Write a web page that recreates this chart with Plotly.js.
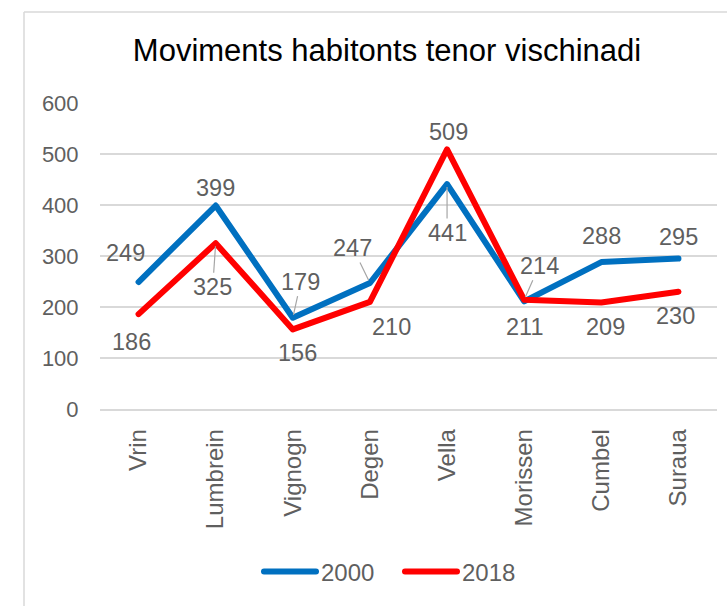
<!DOCTYPE html>
<html>
<head>
<meta charset="utf-8">
<script src="https://cdn.plot.ly/plotly-3.0.1.min.js"></script>
<style>
  html, body { margin: 0; padding: 0; background: #ffffff; }
  #chart { width: 727px; height: 606px; }
  #chart .scatterlayer .js-line, #chart .legendlines path { stroke-linecap: round; stroke-linejoin: round; }
</style>
</head>
<body>
<div id="chart"></div>
<script>
// ---- data ----
const categories = ['Vrin', 'Lumbrein', 'Vignogn', 'Degen', 'Vella', 'Morissen', 'Cumbel', 'Suraua'];
const values2000 = [249, 399, 179, 247, 441, 211, 288, 295];
const values2018 = [186, 325, 156, 210, 509, 214, 209, 230];
const seriesNames = ['2000', '2018'];
const yTicks = [0, 100, 200, 300, 400, 500, 600];

// ---- label placement (pixel offsets from the point, dy downward) ----
const labelOffsets2000 = [[-13, -29], [0, -18], [8, -36], [-17, -35], [0, 49], [0, 26], [0, -26], [0, -22]];
const leaders2000 = [false, false, true, true, true, false, false, false];
const labelOffsets2018 = [[-7, 28], [-3, 44], [5, 24], [22, 25], [1, -17], [15, -34], [4, 25], [-3, 24]];
const leaders2018 = [false, true, false, false, false, true, false, false];

const FONT = 'Liberation Sans, Arial, sans-serif';
const GRAY = '#5f5f5f';
const colors = ['#0070C0', '#FF0000'];

const traces = [values2000, values2018].map((vals, i) => ({
  type: 'scatter',
  mode: 'lines',
  name: seriesNames[i],
  x: categories,
  y: vals,
  line: { color: colors[i], width: 6 },
  hoverinfo: 'skip'
}));

function makeLabels(vals, offsets, leaders) {
  return vals.map((v, i) => {
    const [dx, dy] = offsets[i];
    const base = {
      x: categories[i], y: v, xref: 'x', yref: 'y',
      text: String(v),
      font: { family: FONT, size: 23.5, color: GRAY }
    };
    if (leaders[i]) {
      return Object.assign(base, {
        showarrow: true, ax: dx, ay: dy, axref: 'pixel', ayref: 'pixel',
        arrowhead: 0, arrowwidth: 1.2, arrowcolor: '#a6a6a6', standoff: 3
      });
    }
    return Object.assign(base, { showarrow: false, xshift: dx, yshift: -dy });
  });
}

const annotations = [
  ...makeLabels(values2000, labelOffsets2000, leaders2000),
  ...makeLabels(values2018, labelOffsets2018, leaders2018)
];

// chart frame (px -> paper): plot area x 100..717, y 103..409
const px2x = p => (p - 100) / 617;
const py2y = p => (409 - p) / 306;
const shapes = [
  { type: 'line', xref: 'paper', yref: 'paper', x0: px2x(24), x1: px2x(24), y0: py2y(12), y1: py2y(606),
    line: { color: '#d9d9d9', width: 1.5 } },
  { type: 'line', xref: 'paper', yref: 'paper', x0: px2x(24), x1: px2x(727), y0: py2y(12), y1: py2y(12),
    line: { color: '#d9d9d9', width: 1.5 } }
];

const layout = {
  width: 727, height: 606,
  margin: { l: 100, r: 10, t: 103, b: 197 },
  paper_bgcolor: '#ffffff', plot_bgcolor: '#ffffff',
  font: { family: FONT, color: GRAY },
  title: {
    text: 'Moviments habitonts tenor vischinadi',
    font: { family: FONT, size: 31, color: '#000000' },
    x: px2x(387), xref: 'paper', xanchor: 'center',
    y: 1 - 50 / 606, yref: 'container', yanchor: 'middle'
  },
  xaxis: {
    type: 'category', range: [-0.5, 7.5], fixedrange: true,
    tickangle: -90, tickfont: { family: FONT, size: 24, color: GRAY },
    showgrid: false, zeroline: false,
    showline: true, linecolor: '#d9d9d9', linewidth: 1.5,
    ticks: 'outside', ticklen: 9, tickcolor: 'rgba(0,0,0,0)'
  },
  yaxis: {
    range: [0, 600], fixedrange: true, tickvals: yTicks,
    tickfont: { family: FONT, size: 22, color: GRAY },
    showgrid: true, gridcolor: '#d9d9d9', gridwidth: 1.5,
    zeroline: false, showline: false,
    ticks: 'outside', ticklen: 16, tickcolor: 'rgba(0,0,0,0)'
  },
  legend: {
    orientation: 'h', x: px2x(400), xanchor: 'center',
    y: py2y(572), yanchor: 'middle',
    font: { family: FONT, size: 24, color: GRAY },
    itemwidth: 52,
    entrywidth: 74, entrywidthmode: 'pixels'
  },
  showlegend: true,
  annotations: annotations,
  shapes: shapes,
  hovermode: false
};

Plotly.newPlot('chart', traces, layout, { displayModeBar: false, staticPlot: true });
</script>
</body>
</html>
